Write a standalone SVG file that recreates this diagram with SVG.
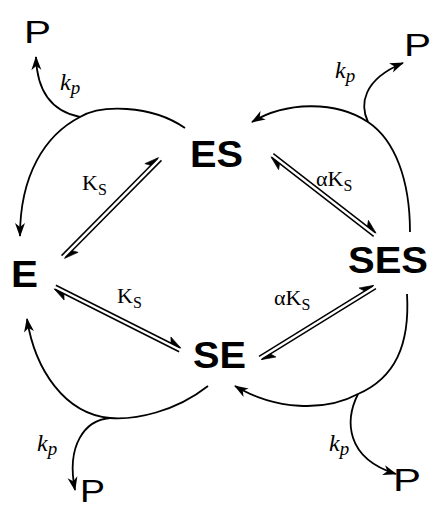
<svg xmlns="http://www.w3.org/2000/svg" width="430" height="508" viewBox="0 0 430 508">
<style>
.sp{font-family:"Liberation Sans",Arial,sans-serif;font-weight:bold;font-size:36px;fill:#000}
.p{font-family:"Liberation Sans",Arial,sans-serif;font-size:32px;fill:#000}
.kp{font-family:"Liberation Serif","Times New Roman",serif;font-style:italic;font-size:24px;fill:#000}
.ks{font-family:"Liberation Serif","Times New Roman",serif;font-size:22px;fill:#000}
.sub{font-size:16px}
.sub2{font-size:19px}
.c{fill:none;stroke:#000;stroke-width:1.8}
.h{fill:none;stroke:#000;stroke-width:1.5}
.hd{fill:#000;stroke:#000;stroke-width:0.6;stroke-linejoin:miter}
</style>
<defs>
<marker id="ah" viewBox="-15 -7 17 14" refX="0" refY="0" markerWidth="17" markerHeight="14" markerUnits="userSpaceOnUse" orient="auto">
<path d="M1,0 L-13,-5 L-9,0 L-13,5 Z" fill="#000"/>
</marker>
</defs>
<rect width="430" height="508" fill="#fff"/>

<g id="E"><text class="sp" x="11" y="287" textLength="27" lengthAdjust="spacingAndGlyphs">E</text></g>
<g id="ES"><text class="sp" x="190" y="167" textLength="53" lengthAdjust="spacingAndGlyphs">ES</text></g>
<g id="SES"><text class="sp" x="348" y="273" textLength="80" lengthAdjust="spacingAndGlyphs">SES</text></g>
<g id="SE"><text class="sp" x="193" y="368" textLength="53" lengthAdjust="spacingAndGlyphs">SE</text></g>
<g id="P1"><text class="p" x="24" y="43" textLength="27" lengthAdjust="spacingAndGlyphs">P</text></g>
<g id="P2"><text class="p" x="404" y="56" textLength="27" lengthAdjust="spacingAndGlyphs">P</text></g>
<g id="P3"><text class="p" x="80" y="502" font-size="30" textLength="25" lengthAdjust="spacingAndGlyphs">P</text></g>
<g id="P4"><text class="p" x="393" y="491" textLength="28" lengthAdjust="spacingAndGlyphs">P</text></g>

<g id="connectors">
<!-- top-left: ES -> E with branch to P -->
<path class="c" d="M185,128 C150,104 100,105 80,117 C45,135 20,175 20,236" marker-end="url(#ah)"/>
<path class="c" d="M80,117 C55,112 37,95 36,57" marker-end="url(#ah)"/>
<!-- top-right: SES -> ES with branch to P -->
<path class="c" d="M410,232 C410,180 395,140 368,122 C335,100 285,102 252,122" marker-end="url(#ah)"/>
<path class="c" d="M368,122 C360,105 362,80 403,63" marker-end="url(#ah)"/>
<!-- bottom-left: SE -> E with branch to P -->
<path class="c" d="M208,386 C175,412 135,420 110,418 C65,414 35,370 27,319" marker-end="url(#ah)"/>
<path class="c" d="M110,418 C85,420 66,445 75,490" marker-end="url(#ah)"/>
<!-- bottom-right: SES -> SE with branch to P -->
<path class="c" d="M407,294 C410,345 395,378 358,394 C325,412 275,410 235,386" marker-end="url(#ah)"/>
<path class="c" d="M358,394 C345,420 345,458 396,474" marker-end="url(#ah)"/>

<!-- E <=> ES -->
<g transform="translate(111.5,208) rotate(-45.3)">
<path class="h" d="M-69,-2 H68"/><path class="hd" d="M69,-2 L55,-7.5 L58,-2 Z"/>
<path class="h" d="M69,2 H-68"/><path class="hd" d="M-69,2 L-55,7.5 L-58,2 Z"/>
</g>
<!-- E <=> SE -->
<g transform="translate(117.5,318.5) rotate(26.7)">
<path class="h" d="M-70,-2 H69"/><path class="hd" d="M70,-2 L56,-7.5 L59,-2 Z"/>
<path class="h" d="M70,2 H-69"/><path class="hd" d="M-70,2 L-56,7.5 L-59,2 Z"/>
</g>
<!-- ES <=> SES -->
<g transform="translate(323.5,195) rotate(37.8)">
<path class="h" d="M-65,-2 H64"/><path class="hd" d="M65,-2 L51,-7.5 L54,-2 Z"/>
<path class="h" d="M65,2 H-64"/><path class="hd" d="M-65,2 L-51,7.5 L-54,2 Z"/>
</g>
<!-- SE <=> SES -->
<g transform="translate(317.5,322.5) rotate(-31.7)">
<path class="h" d="M-67.5,-2 H66.5"/><path class="hd" d="M67.5,-2 L53.5,-7.5 L56.5,-2 Z"/>
<path class="h" d="M67.5,2 H-66.5"/><path class="hd" d="M-67.5,2 L-53.5,7.5 L-56.5,2 Z"/>
</g>

<!-- rate labels -->
<text class="kp" x="60" y="90">k<tspan class="sub2" dy="4">p</tspan></text>
<text class="kp" x="335" y="78">k<tspan class="sub2" dy="4">p</tspan></text>
<text class="kp" x="37" y="451">k<tspan class="sub2" dy="4">p</tspan></text>
<text class="kp" x="329" y="451">k<tspan class="sub2" dy="4">p</tspan></text>
<text class="ks" x="82" y="190">K<tspan class="sub" dy="5">S</tspan></text>
<text class="ks" x="117" y="303">K<tspan class="sub" dy="5">S</tspan></text>
<text class="ks" x="316" y="186">αK<tspan class="sub" dy="5">S</tspan></text>
<text class="ks" x="274" y="305">αK<tspan class="sub" dy="5">S</tspan></text>
</g>
</svg>
